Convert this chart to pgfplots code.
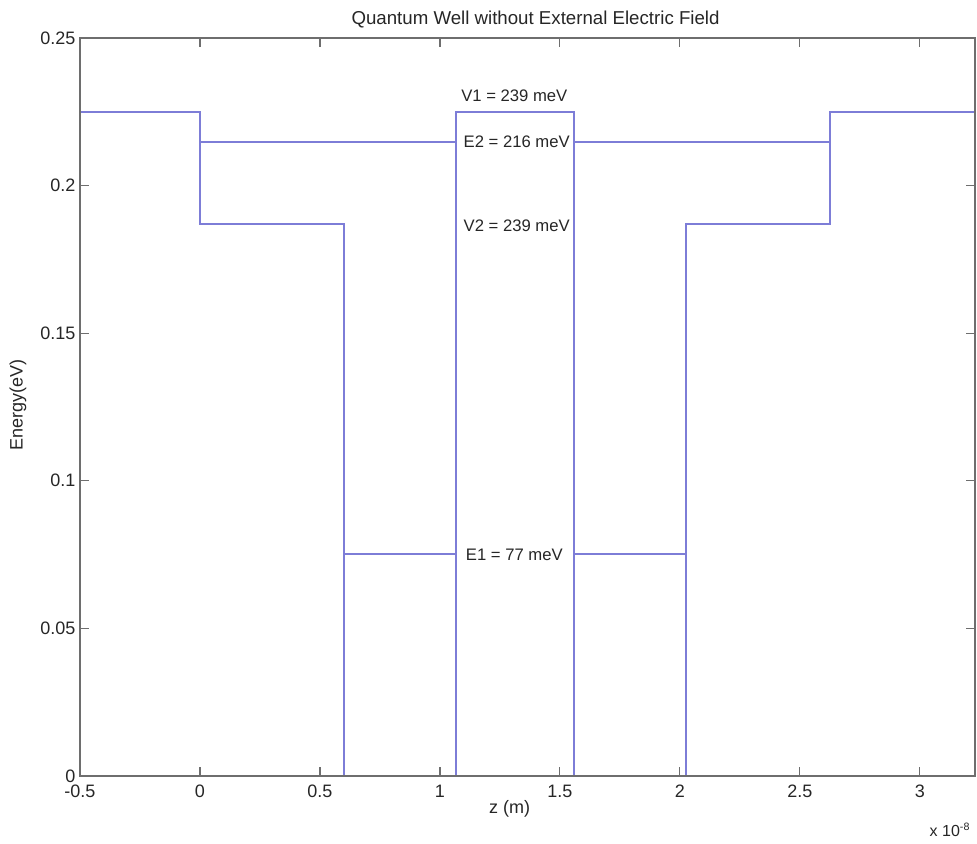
\documentclass[border=0pt]{standalone}
\usepackage{fontspec}
\setmainfont{Liberation Sans}
\usepackage{pgfplots}
\pgfplotsset{compat=1.18}
\definecolor{wellblue}{RGB}{125,125,215}
\definecolor{axgray}{RGB}{110,110,110}
\begin{document}
\begin{tikzpicture}
\begin{axis}[
  name=ax,
  scale only axis, width=671.25pt, height=553.5pt,
  xmin=-0.5, xmax=3.23, ymin=0, ymax=0.25,
  xtick={-0.5,0,0.5,1,1.5,2,2.5,3},
  xticklabels={-0.5,0,0.5,1,1.5,2,2.5,3},
  ytick={0,0.05,0.1,0.15,0.2,0.25},
  yticklabels={0,0.05,0.1,0.15,0.2,0.25},
  tick align=inside, major tick length=7pt,
  axis line style={axgray, line width=0.9pt},
  every tick/.style={axgray, line width=0.9pt},
  tick label style={font=\fontsize{13.5}{16}\selectfont, text=black!85},
  xticklabel style={yshift=-3pt},
  axis on top,
  clip=false,
]
\addplot[wellblue, line width=1.3pt] coordinates {
  (-0.5,0.225) (0,0.225) (0,0.187) (0.6,0.187) (0.6,0)
  (1.067,0) (1.067,0.225) (1.558,0.225) (1.558,0)
  (2.025,0) (2.025,0.187) (2.625,0.187) (2.625,0.225) (3.23,0.225)};
\addplot[wellblue, line width=1.3pt] coordinates {(0,0.2148) (1.067,0.2148)};
\addplot[wellblue, line width=1.3pt] coordinates {(1.558,0.2148) (2.625,0.2148)};
\addplot[wellblue, line width=1.3pt] coordinates {(0.6,0.0752) (1.067,0.0752)};
\addplot[wellblue, line width=1.3pt] coordinates {(1.558,0.0752) (2.025,0.0752)};
\node[font=\fontsize{12.5}{14}\selectfont, text=black!85] at (axis cs:1.31,0.2305) {V1 = 239 meV};
\node[font=\fontsize{12.5}{14}\selectfont, text=black!85] at (axis cs:1.32,0.2148) {E2 = 216 meV};
\node[font=\fontsize{12.5}{14}\selectfont, text=black!85] at (axis cs:1.32,0.1863) {V2 = 239 meV};
\node[font=\fontsize{12.5}{14}\selectfont, text=black!85] at (axis cs:1.31,0.075) {E1 = 77 meV};
\node[font=\fontsize{14}{16}\selectfont, text=black!85] at ([yshift=14pt]rel axis cs:0.509,1) {Quantum Well without External Electric Field};
\node[font=\fontsize{13.5}{16}\selectfont, text=black!85, rotate=90] at ([xshift=-46.5pt]rel axis cs:0,0.503) {Energy(eV)};
\node[font=\fontsize{13.5}{16}\selectfont, text=black!85] at ([yshift=-25pt]rel axis cs:0.48,0) {z (m)};
\node[font=\fontsize{12}{14}\selectfont, text=black!85] at ([yshift=-40.5pt]rel axis cs:0.972,0) {x 10\textsuperscript{-8}};
\end{axis}
\path ([shift={(-60pt,-51pt)}]ax.south west) rectangle ([shift={(1.5pt,28.5pt)}]ax.north east);
\end{tikzpicture}
\end{document}
